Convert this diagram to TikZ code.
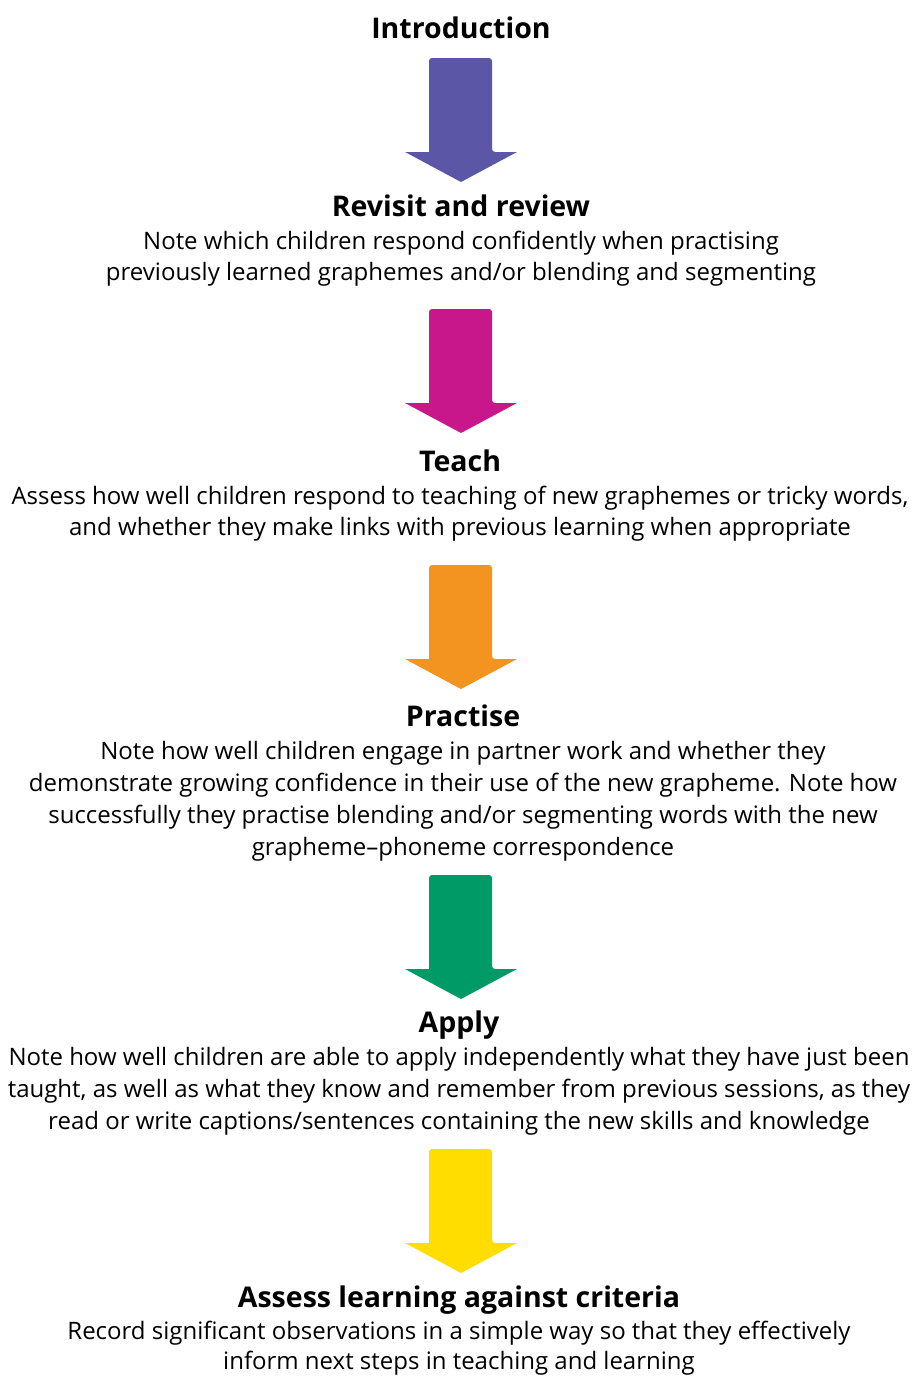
\documentclass[tikz,border=0pt]{standalone}
\usepackage{fontspec}
\setmainfont{Open Sans}
\definecolor{cIntro}{HTML}{5B56A6}
\definecolor{cRev}{HTML}{C8178B}
\definecolor{cTeach}{HTML}{F39320}
\definecolor{cPrac}{HTML}{009A66}
\definecolor{cApply}{HTML}{FFDD00}
\tikzset{
  head/.style={anchor=base, inner sep=0pt, font=\fontsize{28.5}{32}\selectfont\bfseries},
  body/.style={anchor=base, inner sep=0pt, font=\fontsize{24}{32}\selectfont},
}
\newcommand{\flowarrow}[2]{%
  \fill[#2, rounded corners=3pt] (429,#1) -- (492,#1) -- (492,#1+94)
    [sharp corners] -- (517,#1+94) -- (461,#1+124) -- (405,#1+94) -- (429,#1+94) [rounded corners=3pt] -- cycle;}
\begin{document}
\begin{tikzpicture}[x=1pt,y=-1pt]
\useasboundingbox (0,0) rectangle (914,1376);
\node[head] (intro) at (461,38) {Introduction};
\flowarrow{58}{cIntro}
\node[head] (rev) at (461,216) {Revisit and review};
\node[body] (rev1) at (461,249) {Note which children respond confidently when practising};
\node[body] (rev2) at (461,280) {previously learned graphemes and/or blending and segmenting};
\flowarrow{309}{cRev}
\node[head] (teach) at (460,471) {Teach};
\node[body] (teach1) at (460,504) {Assess how well children respond to teaching of new graphemes or tricky words,};
\node[body] (teach2) at (460,535) {and whether they make links with previous learning when appropriate};
\flowarrow{565}{cTeach}
\node[head] (prac) at (463,726) {Practise};
\node[body] (prac1) at (463,759) {Note how well children engage in partner work and whether they};
\node[body] (prac2) at (463,791) {demonstrate growing confidence in their use of the new grapheme. Note how};
\node[body] (prac3) at (463,823) {successfully they practise blending and/or segmenting words with the new};
\node[body] (prac4) at (463,855) {grapheme–phoneme correspondence};
\flowarrow{875}{cPrac}
\node[head] (apply) at (459,1032) {Apply};
\node[body] (apply1) at (459,1065) {Note how well children are able to apply independently what they have just been};
\node[body] (apply2) at (459,1097) {taught, as well as what they know and remember from previous sessions, as they};
\node[body] (apply3) at (459,1129) {read or write captions/sentences containing the new skills and knowledge};
\flowarrow{1149}{cApply}
\node[head] (assess) at (459,1307) {Assess learning against criteria};
\node[body] (assess1) at (459,1339) {Record significant observations in a simple way so that they effectively};
\node[body] (assess2) at (459,1369) {inform next steps in teaching and learning};
\end{tikzpicture}
\end{document}
